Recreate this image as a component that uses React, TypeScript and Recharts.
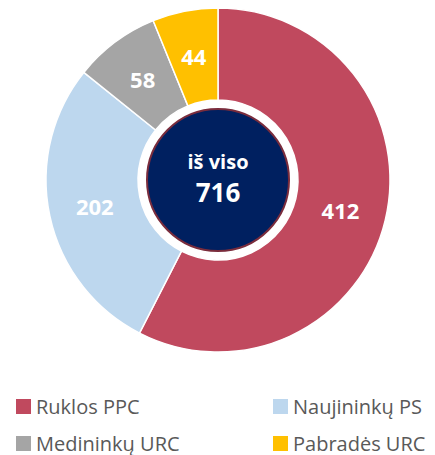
import { PieChart, Pie, Cell } from 'recharts'

const categories = ['Ruklos PPC', 'Naujininkų PS', 'Medininkų URC', 'Pabradės URC']
const values = [412, 202, 58, 44]
const colors = ['#C0495E', '#BDD7EE', '#A5A5A5', '#FFC000']
const totalLabel = 'iš viso'
const total = 716

const data = categories.map((name, i) => ({ name, value: values[i] }))

const FONT = '"Open Sans", "Liberation Sans", sans-serif'
const RAD = Math.PI / 180
const CX = 218
const CY = 180

function renderLabel(props: any) {
  const { cx, cy, midAngle, innerRadius, outerRadius, value } = props
  const r = (innerRadius + outerRadius) / 2
  const x = cx + r * Math.cos(-midAngle * RAD)
  const y = cy + r * Math.sin(-midAngle * RAD)
  return (
    <text x={x} y={y} fill="#fff" textAnchor="middle" dominantBaseline="central"
      fontFamily={FONT} fontWeight={700} fontSize={22}>
      {value}
    </text>
  )
}

export default function App() {
  return (
    <div style={{ position: 'absolute', left: 0, top: 0, width: 435, height: 455, background: '#fff', fontFamily: FONT }}>
      <PieChart width={435} height={380} margin={{ top: 0, right: 0, bottom: 0, left: 0 }}>
        <Pie data={data} dataKey="value" cx={CX} cy={CY} innerRadius={80} outerRadius={172}
          startAngle={90} endAngle={-270} stroke="#fff" strokeWidth={1.5}
          label={renderLabel} labelLine={false} isAnimationActive={false}>
          {data.map((d, i) => <Cell key={d.name} fill={colors[i]} />)}
        </Pie>
      </PieChart>
      <div style={{
        position: 'absolute', left: CX - 72, top: CY - 72, width: 144, height: 144, boxSizing: 'border-box',
        borderRadius: '50%', background: '#002060', border: '2px solid #7A2C3C', color: '#fff',
        display: 'flex', flexDirection: 'column', alignItems: 'center', justifyContent: 'center', fontWeight: 700,
      }}>
        <div style={{ fontSize: 20, lineHeight: '28px', marginTop: -4 }}>{totalLabel}</div>
        <div style={{ fontSize: 26, lineHeight: '32px' }}>{total}</div>
      </div>
      {categories.map((name, k) => {
        const col = k % 2
        const row = Math.floor(k / 2)
        return (
          <div key={name} style={{
            position: 'absolute', left: col === 0 ? 16 : 273, top: row === 0 ? 393 : 430,
            display: 'flex', alignItems: 'center', height: 26, whiteSpace: 'nowrap',
          }}>
            <span style={{ width: 15, height: 15, background: colors[k], display: 'inline-block', marginRight: 5 }} />
            <span style={{ fontSize: 20, color: '#595959' }}>{name}</span>
          </div>
        )
      })}
    </div>
  )
}
